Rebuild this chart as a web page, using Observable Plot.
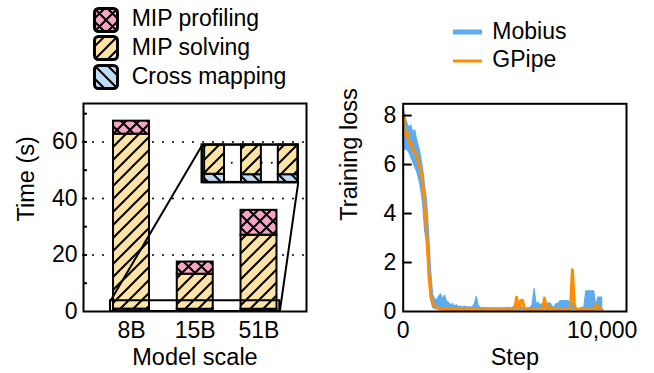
<!DOCTYPE html>
<html><head><meta charset="utf-8">
<script src="https://cdn.jsdelivr.net/npm/d3@7"></script>
<script src="https://cdn.jsdelivr.net/npm/@observablehq/plot@0.6"></script>
<style>
body{margin:0;background:#fff;}
#root{position:relative;width:654px;height:373px;overflow:hidden;font-family:"Liberation Sans",Arial,sans-serif;color:#000;}
.abs{position:absolute;}
.lg{position:absolute;font-size:23px;line-height:26px;white-space:nowrap;}
</style>
</head><body>
<svg width="0" height="0" style="position:absolute">
<defs>
<pattern id="hatchSolve" patternUnits="userSpaceOnUse" width="13" height="13">
<rect width="13" height="13" fill="#fde3a6"/>
<path d="M-3.25,3.25L3.25,-3.25M0,13L13,0M9.75,16.25L16.25,9.75" stroke="#000" stroke-width="2"/>
</pattern>
<pattern id="hatchCross" patternUnits="userSpaceOnUse" width="13" height="13">
<rect width="13" height="13" fill="#bfdcf5"/>
<path d="M-3.25,9.75L3.25,16.25M0,0L13,13M9.75,-3.25L16.25,3.25" stroke="#000" stroke-width="2"/>
</pattern>
<pattern id="hatchProf" patternUnits="userSpaceOnUse" width="13" height="13">
<rect width="13" height="13" fill="#f4a4c4"/>
<path d="M-3.25,3.25L3.25,-3.25M0,13L13,0M9.75,16.25L16.25,9.75M-3.25,9.75L3.25,16.25M0,0L13,13M9.75,-3.25L16.25,3.25" stroke="#000" stroke-width="2"/>
</pattern>
</defs>
</svg>
<div id="root"></div>
<script>
// ---------- data ----------
const categories = ["8B", "15B", "51B"];
const crossMapping = [0.85, 0.8, 0.8];
const mipSolving = [61.9, 12.4, 26.2];
const mipProfiling = [4.6, 4.3, 8.8];
const timeTicks = [0, 20, 40, 60];

const stepTicks = [0, 10000];
const lossTicks = [0, 2, 4, 6, 8];
const steps = d3.range(0, 10001, 100);
// Mobius: noisy loss, upper and lower envelope
const mobiusHigh = [
8.3,8.0,7.7,7.5,7.6,7.3,7.4,7.0,6.7,6.3,
5.8,5.1,4.5,3.2,1.7,0.7,0.5,0.45,0.6,0.7,
0.5,0.65,0.4,0.35,0.25,0.3,0.2,0.25,0.18,0.2,
0.15,0.2,0.15,0.18,0.15,0.18,0.3,0.6,0.2,0.15,
0.12,0.15,0.12,0.14,0.12,0.14,0.12,0.15,0.12,0.14,
0.12,0.14,0.12,0.15,0.12,0.14,0.2,0.15,0.12,0.2,
0.15,0.14,0.12,0.14,0.15,0.25,0.92,0.3,0.35,0.25,
0.3,0.2,0.25,0.33,0.33,0.2,0.15,0.3,0.3,0.42,
0.42,0.42,0.42,0.42,0.33,0.33,0.33,0.12,0.1,0.12,
0.15,0.15,0.82,0.82,0.82,0.82,0.82,0.2,0.57,0.57,
0.57];
const mobiusLow = [
7.0,6.6,6.6,6.5,6.3,6.1,5.9,5.7,5.4,5.0,
4.4,3.3,2.8,1.4,0.5,0.15,0.1,0.1,0.08,0.08,
0.07,0.07,0.06,0.06,0.06,0.06,0.05,0.05,0.05,0.05,
0.05,0.05,0.05,0.05,0.05,0.05,0.05,0.05,0.05,0.05,
0.05,0.05,0.05,0.05,0.05,0.05,0.05,0.05,0.05,0.05,
0.05,0.05,0.05,0.05,0.05,0.05,0.05,0.05,0.05,0.05,
0.05,0.05,0.05,0.05,0.05,0.05,0.05,0.05,0.05,0.05,
0.05,0.05,0.05,0.05,0.05,0.05,0.05,0.05,0.05,0.05,
0.05,0.05,0.05,0.05,0.05,0.05,0.05,0.05,0.05,0.05,
0.05,0.05,0.05,0.05,0.05,0.05,0.05,0.05,0.05,0.05,
0.05];
const gpipe = [
8.0,7.2,7.3,6.9,6.9,6.6,6.5,6.3,6.0,5.7,
5.1,4.2,2.9,1.4,0.55,0.3,0.2,0.15,0.12,0.1,
0.09,0.08,0.09,0.08,0.08,0.09,0.08,0.08,0.07,0.08,
0.08,0.07,0.08,0.07,0.08,0.07,0.07,0.08,0.07,0.07,
0.07,0.07,0.08,0.07,0.07,0.07,0.07,0.07,0.07,0.07,
0.07,0.07,0.07,0.07,0.07,0.07,0.07,0.58,0.07,0.45,
0.45,0.07,0.07,0.07,0.07,0.07,0.07,0.07,0.07,0.07,
0.07,0.55,0.07,0.07,0.2,0.07,0.07,0.07,0.07,0.07,
0.07,0.07,0.07,0.07,0.07,1.7,0.25,0.07,0.07,0.07,
0.07,0.07,0.07,0.07,0.07,0.07,0.07,0.3,0.15,0.07,
0.07];

// ---------- styles ----------
const FONT = "'Liberation Sans', Arial, sans-serif";
const FS = 23, FL = 23.5;
const fills = {cross: "url(#hatchCross)", solve: "url(#hatchSolve)", prof: "url(#hatchProf)"};
const blue = "#5eabee", orange = "#ff8c00";
const root = document.getElementById("root");

// ---------- left chart ----------
const L = {w: 330, h: 373, ml: 83, mr: 24, mt: 103, mb: 62};
const xDom = [-0.753, 2.745], yDom = [0, 73.6];
const halfW = 0.282;
const zoomTop = 3.8;
const zoomBox = {x0: -0.329, x1: 2.326};
const inset = {x0: 1.11, x1: 2.615, y0: 45.6, y1: 58.9};
const insetXDom = [-0.334, 2.27], insetHalfW = 0.27;
const ix = v => inset.x0 + (v - insetXDom[0]) / (insetXDom[1] - insetXDom[0]) * (inset.x1 - inset.x0);
const iy = v => inset.y0 + Math.min(v, zoomTop) / zoomTop * (inset.y1 - inset.y0);

const rows = categories.map((c, i) => {
  const a = crossMapping[i], b = a + mipSolving[i], t = b + mipProfiling[i];
  return {i, c, cross: [0, a], solve: [a, b], prof: [b, t]};
});
const seg = key => rows.map(r => ({x1: r.i - halfW, x2: r.i + halfW, y1: r[key][0], y2: r[key][1]}));
const insetSeg = key => rows.map(r => ({
  x1: ix(r.i - insetHalfW), x2: ix(Math.min(r.i + insetHalfW, insetXDom[1])),
  y1: iy(r[key][0]), y2: iy(r[key][1])
})).filter(d => d.y2 > d.y1);

const frameWL = L.w - L.ml - L.mr;
const left = Plot.plot({
  width: L.w, height: L.h, marginLeft: L.ml, marginRight: L.mr, marginTop: L.mt, marginBottom: L.mb,
  style: {fontFamily: FONT, fontSize: FS + "px", color: "#000", background: "transparent", overflow: "visible"},
  x: {domain: xDom}, y: {domain: yDom},
  marks: [
    Plot.gridY(timeTicks.filter(d => d > 0), {stroke: "#000", strokeOpacity: 1, strokeWidth: 2, strokeDasharray: "0,10", strokeLinecap: "round"}),
    ...["cross", "solve", "prof"].map(k => Plot.rect(seg(k), {x1: "x1", x2: "x2", y1: "y1", y2: "y2", fill: fills[k], stroke: "#000", strokeWidth: 2})),
    Plot.rect([zoomBox], {x1: "x0", x2: "x1", y1: () => 0, y2: () => zoomTop, fill: "none", stroke: "#000", strokeWidth: 2}),
    Plot.link([
      {x1: zoomBox.x0, y1: zoomTop, x2: inset.x0, y2: inset.y1},
      {x1: zoomBox.x1, y1: 0, x2: inset.x1, y2: inset.y0}
    ], {x1: "x1", y1: "y1", x2: "x2", y2: "y2", stroke: "#000", strokeWidth: 2}),
    Plot.rect([inset], {x1: "x0", x2: "x1", y1: "y0", y2: "y1", fill: "#fff"}),
    Plot.ruleY([2], {y: d => iy(d), x1: () => ix(insetXDom[0]), x2: () => ix(insetXDom[1]), stroke: "#000", strokeWidth: 2, strokeDasharray: "0,10", strokeLinecap: "round"}),
    ...["cross", "solve", "prof"].map(k => Plot.rect(insetSeg(k), {x1: "x1", x2: "x2", y1: "y1", y2: "y2", fill: fills[k], stroke: "#000", strokeWidth: 2})),
    Plot.rect([inset], {x1: "x0", x2: "x1", y1: "y0", y2: "y1", fill: "none", stroke: "#000", strokeWidth: 2.5}),
    Plot.frame({stroke: "#000", strokeWidth: 2}),
    Plot.tickY(d3.range(10, 71, 10), {y: d => d, insetRight: frameWL - 4, stroke: "#000", strokeWidth: 2}),
    Plot.axisY({ticks: timeTicks, tickSize: 0, tickPadding: 6, label: null, fontSize: FS}),
    Plot.axisX({ticks: [0, 1, 2], tickFormat: i => categories[i], tickSize: 0, tickPadding: 10, label: null, fontSize: FS}),
    Plot.text(["Time (s)"], {text: d => d, frameAnchor: "left", dx: -57, dy: 14, rotate: -90, fontSize: FL}),
    Plot.text(["Model scale"], {text: d => d, frameAnchor: "bottom", lineAnchor: "middle", dy: 46, fontSize: FL})
  ]
});
left.style.position = "absolute"; left.style.left = "0px"; left.style.top = "0px";
root.appendChild(left);

// ---------- right chart ----------
const R = {w: 324, h: 373, ml: 72.7, mr: 28, mt: 103.3, mb: 62};
const frameWR = R.w - R.ml - R.mr;
const mobiusRows = steps.map((s, i) => ({step: s, lo: mobiusLow[i], hi: mobiusHigh[i]}));
const gpipeRows = steps.map((s, i) => ({step: s, loss: gpipe[i]}));
const right = Plot.plot({
  width: R.w, height: R.h, marginLeft: R.ml, marginRight: R.mr, marginTop: R.mt, marginBottom: R.mb,
  style: {fontFamily: FONT, fontSize: FS + "px", color: "#000", background: "transparent", overflow: "visible"},
  x: {domain: [0, 11220]}, y: {domain: [0, 8.48]},
  marks: [
    Plot.areaY(mobiusRows, {x: "step", y1: "lo", y2: "hi", fill: blue, stroke: blue, strokeWidth: 1.2}),
    Plot.line(gpipeRows, {x: "step", y: "loss", stroke: orange, strokeWidth: 3}),
    Plot.frame({stroke: "#000", strokeWidth: 2}),
    Plot.tickY(lossTicks.filter(d => d > 0), {y: d => d, insetRight: frameWR - 9, stroke: "#000", strokeWidth: 2}),
    Plot.axisY({ticks: lossTicks, tickSize: 0, tickPadding: 7, label: null, fontSize: FS}),
    Plot.axisX({ticks: stepTicks, tickFormat: d3.format(","), tickSize: 0, tickPadding: 10, label: null, fontSize: FS}),
    Plot.text(["Training loss"], {text: d => d, frameAnchor: "left", dx: -53.7, dy: 13, rotate: -90, fontSize: FL}),
    Plot.text(["Step"], {text: d => d, frameAnchor: "bottom", lineAnchor: "middle", dy: 46, fontSize: FL})
  ]
});
right.style.position = "absolute"; right.style.left = "330px"; right.style.top = "0px";
root.appendChild(right);

// ---------- legends ----------
const legL = [
  {label: "MIP profiling", fill: fills.prof, cy: 19.7},
  {label: "MIP solving", fill: fills.solve, cy: 48},
  {label: "Cross mapping", fill: fills.cross, cy: 77}
];
legL.forEach(d => {
  const sw = document.createElementNS("http://www.w3.org/2000/svg", "svg");
  sw.setAttribute("width", 26); sw.setAttribute("height", 26);
  sw.setAttribute("class", "abs");
  sw.style.left = "93.3px"; sw.style.top = (d.cy - 13) + "px";
  sw.innerHTML = `<rect x="1.5" y="1.5" width="23" height="23" rx="4" fill="${d.fill}" stroke="#000" stroke-width="3"/>`;
  root.appendChild(sw);
  const t = document.createElement("div");
  t.className = "lg"; t.textContent = d.label;
  t.style.left = "131.7px"; t.style.top = (d.cy - 14.3) + "px";
  root.appendChild(t);
});
const legR = [
  {label: "Mobius", color: blue, w: 5, cy: 32.3},
  {label: "GPipe", color: orange, w: 3, cy: 60.7}
];
legR.forEach(d => {
  const sw = document.createElementNS("http://www.w3.org/2000/svg", "svg");
  sw.setAttribute("width", 29); sw.setAttribute("height", 10);
  sw.setAttribute("class", "abs");
  sw.style.left = "453px"; sw.style.top = (d.cy - 5) + "px";
  sw.innerHTML = `<line x1="0" x2="29" y1="5" y2="5" stroke="${d.color}" stroke-width="${d.w}"/>`;
  root.appendChild(sw);
  const t = document.createElement("div");
  t.className = "lg"; t.textContent = d.label;
  t.style.left = "492.3px"; t.style.top = (d.cy - 14.3) + "px";
  root.appendChild(t);
});
</script>
</body></html>
